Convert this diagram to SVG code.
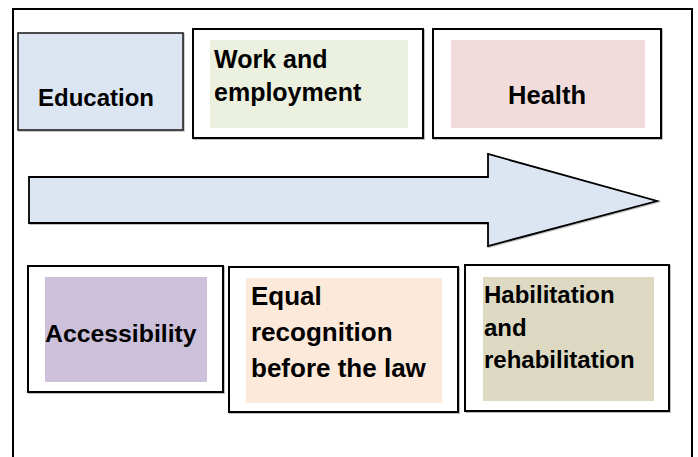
<svg xmlns="http://www.w3.org/2000/svg" width="698" height="457" viewBox="0 0 698 457">
  <style>
    .frame { fill: none; stroke: #000; stroke-width: 2; }
    .box { fill: #fff; stroke: #000; stroke-width: 2; }
    .lbl { font-family: "Liberation Sans", Arial, sans-serif; font-weight: bold; fill: #000; }
  </style>
  <defs>
    <filter id="shadow" x="-5%" y="-5%" width="110%" height="115%">
      <feDropShadow dx="1" dy="1" stdDeviation="0.6" flood-color="#000" flood-opacity="0.25"/>
    </filter>
  </defs>
  <rect width="698" height="457" fill="#fff"/>

  <!-- outer frame, open at the bottom -->
  <path class="frame" d="M13,458 V9 H692 V458"/>

  <!-- connectors: the progress arrow -->
  <g id="connectors">
    <path d="M29,177 H488 V154 L657,201 L488,246 V223 H29 Z" fill="#dce6f2" stroke="#000" stroke-width="1.8" stroke-linejoin="miter" filter="url(#shadow)"/>
  </g>

  <g id="education">
    <rect x="18" y="33" width="165" height="97" fill="#dce6f2" stroke="#222" stroke-width="1.6" filter="url(#shadow)"/>
    <text class="lbl" x="96" y="106" font-size="24" text-anchor="middle">Education</text>
  </g>

  <g id="work">
    <rect class="box" x="193" y="29" width="230" height="109" filter="url(#shadow)"/>
    <rect x="210" y="40" width="198" height="88" fill="#ebf1de"/>
    <text class="lbl" x="214" y="68" font-size="25">Work and</text>
    <text class="lbl" x="214" y="101" font-size="25">employment</text>
  </g>

  <g id="health">
    <rect class="box" x="433" y="29" width="228" height="109" filter="url(#shadow)"/>
    <rect x="451" y="40" width="194" height="88" fill="#f2dcdb"/>
    <text class="lbl" x="547" y="104" font-size="25.5" text-anchor="middle">Health</text>
  </g>

  <g id="accessibility">
    <rect class="box" x="28" y="266" width="195" height="126" filter="url(#shadow)"/>
    <rect x="45" y="277" width="162" height="105" fill="#ccc0da"/>
    <text class="lbl" x="45" y="342" font-size="24.8">Accessibility</text>
  </g>

  <g id="equal-recognition">
    <rect class="box" x="229" y="267" width="229" height="145" filter="url(#shadow)"/>
    <rect x="246" y="278" width="196" height="125" fill="#fde9d9"/>
    <text class="lbl" x="251" y="305" font-size="26">Equal</text>
    <text class="lbl" x="251" y="341" font-size="26">recognition</text>
    <text class="lbl" x="251" y="377" font-size="26">before the law</text>
  </g>

  <g id="habilitation">
    <rect class="box" x="465" y="265" width="204" height="146" filter="url(#shadow)"/>
    <rect x="483" y="277" width="171" height="124" fill="#ddd9c3"/>
    <text class="lbl" x="484" y="303" font-size="24">Habilitation</text>
    <text class="lbl" x="484" y="335.5" font-size="24">and</text>
    <text class="lbl" x="484" y="368" font-size="24">rehabilitation</text>
  </g>
</svg>
